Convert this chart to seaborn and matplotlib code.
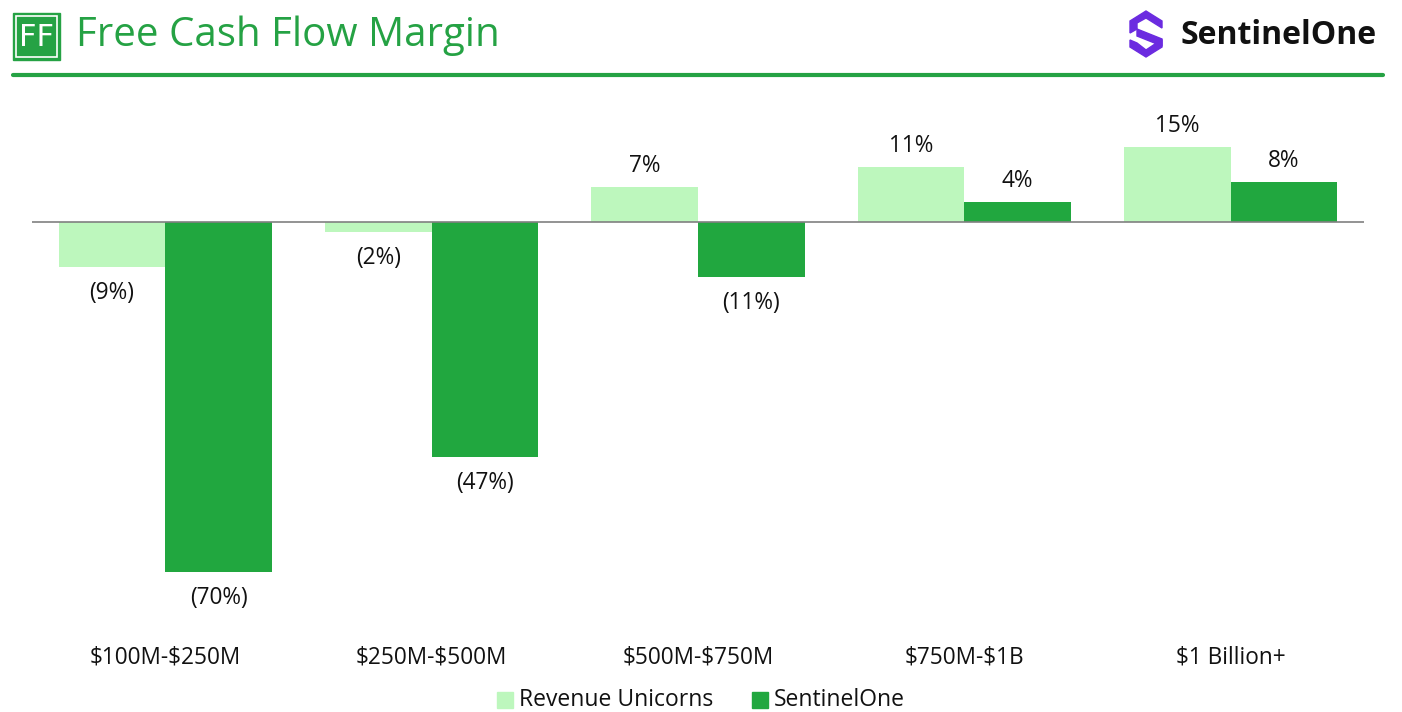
import matplotlib
matplotlib.use('Agg')
import matplotlib.pyplot as plt
from matplotlib.patches import Rectangle, Polygon
from matplotlib.lines import Line2D
import seaborn as sns
import pandas as pd

buckets = ['$100M-$250M', '$250M-$500M', '$500M-$750M', '$750M-$1B', '$1 Billion+']
unicorns = [-9, -2, 7, 11, 15]
sentinel = [-70, -47, -11, 4, 8]
series = ['Revenue Unicorns', 'SentinelOne']

light = '#BDF7BD'
dark = '#21A73F'
green = '#25A244'

df = pd.DataFrame({
    'bucket': buckets * 2,
    'value': unicorns + sentinel,
    'series': [series[0]] * 5 + [series[1]] * 5,
})

sns.set_style('white')
plt.rcParams['font.family'] = ['Open Sans', 'DejaVu Sans']
plt.rcParams['text.parse_math'] = False

W, H = 1402, 712
fig = plt.figure(figsize=(W / 100, H / 100), dpi=100)
ax = fig.add_axes([32 / W, 1 - 622 / H, 1332 / W, 522 / H])

sns.barplot(data=df, x='bucket', y='value', hue='series', palette=[light, dark],
            width=0.8, saturation=1, linewidth=0, ax=ax, legend=False)
ax.set_xlim(-0.5, 4.5)
ax.set_ylim(-80, 24.4)
ax.axhline(0, color='#808080', lw=1.2)
for s in ax.spines.values():
    s.set_visible(False)
ax.set_yticks([])
ax.set_xlabel('')
ax.set_ylabel('')
ax.tick_params(axis='x', length=0, pad=17, labelsize=16.3, labelcolor='#111111')

for cont in ax.containers:
    for bar in cont:
        v = bar.get_height()
        x = bar.get_x() + bar.get_width() / 2
        txt = f'({abs(v):.0f}%)' if v < 0 else f'{v:.0f}%'
        off = -18.5 if v < 0 else 15
        ax.annotate(txt, (x, v), xytext=(0, off), textcoords='offset points',
                    ha='center', va='center', fontsize=16.3, color='#111111')

# legend
def fx(x):
    return x / W

def fy(y):
    return 1 - y / H

for xs, col, lab in [(497, light, series[0]), (752, dark, series[1])]:
    fig.add_artist(Rectangle((fx(xs), fy(708)), 16 / W, 16 / H, color=col, transform=fig.transFigure))
    fig.text(fx(xs + 22), fy(700), lab, fontsize=16.5, va='center', ha='left', color='#111111')

# header
fig.add_artist(Line2D([fx(13), fx(1383)], [fy(75), fy(75)], color=green, lw=3, transform=fig.transFigure))
fig.add_artist(Rectangle((fx(13), fy(60)), 47 / W, 47 / H, color=green, transform=fig.transFigure))
fig.add_artist(Rectangle((fx(16), fy(57)), 41 / W, 41 / H, fill=False, ec='white', lw=1.2,
                         transform=fig.transFigure))
fig.text(fx(36.5), fy(37), 'FF', color='white', fontsize=22, ha='center', va='center',
         family=['DejaVu Sans'])
fig.text(fx(76), fy(36), 'Free Cash Flow Margin', color=green, fontsize=29, ha='left', va='center')

# SentinelOne logo
purple = '#6B2BE0'
pieces = [
    [(1130, 21), (1146, 11), (1162, 21), (1162, 28), (1146, 18), (1137, 23), (1137, 29), (1130, 33)],
    [(1137, 29), (1162, 39), (1162, 46), (1137, 36)],
    [(1130, 40), (1137, 43), (1146, 50), (1155, 44), (1155, 37), (1162, 40), (1162, 47), (1146, 57), (1130, 47)],
]
for p in pieces:
    fig.add_artist(Polygon([(fx(a), fy(b)) for a, b in p], closed=True, color=purple,
                           transform=fig.transFigure))
fig.text(fx(1181), fy(35), 'SentinelOne', color='#111111', fontsize=23, fontweight='bold',
         ha='left', va='center')

fig.savefig('out.png', dpi=100)
